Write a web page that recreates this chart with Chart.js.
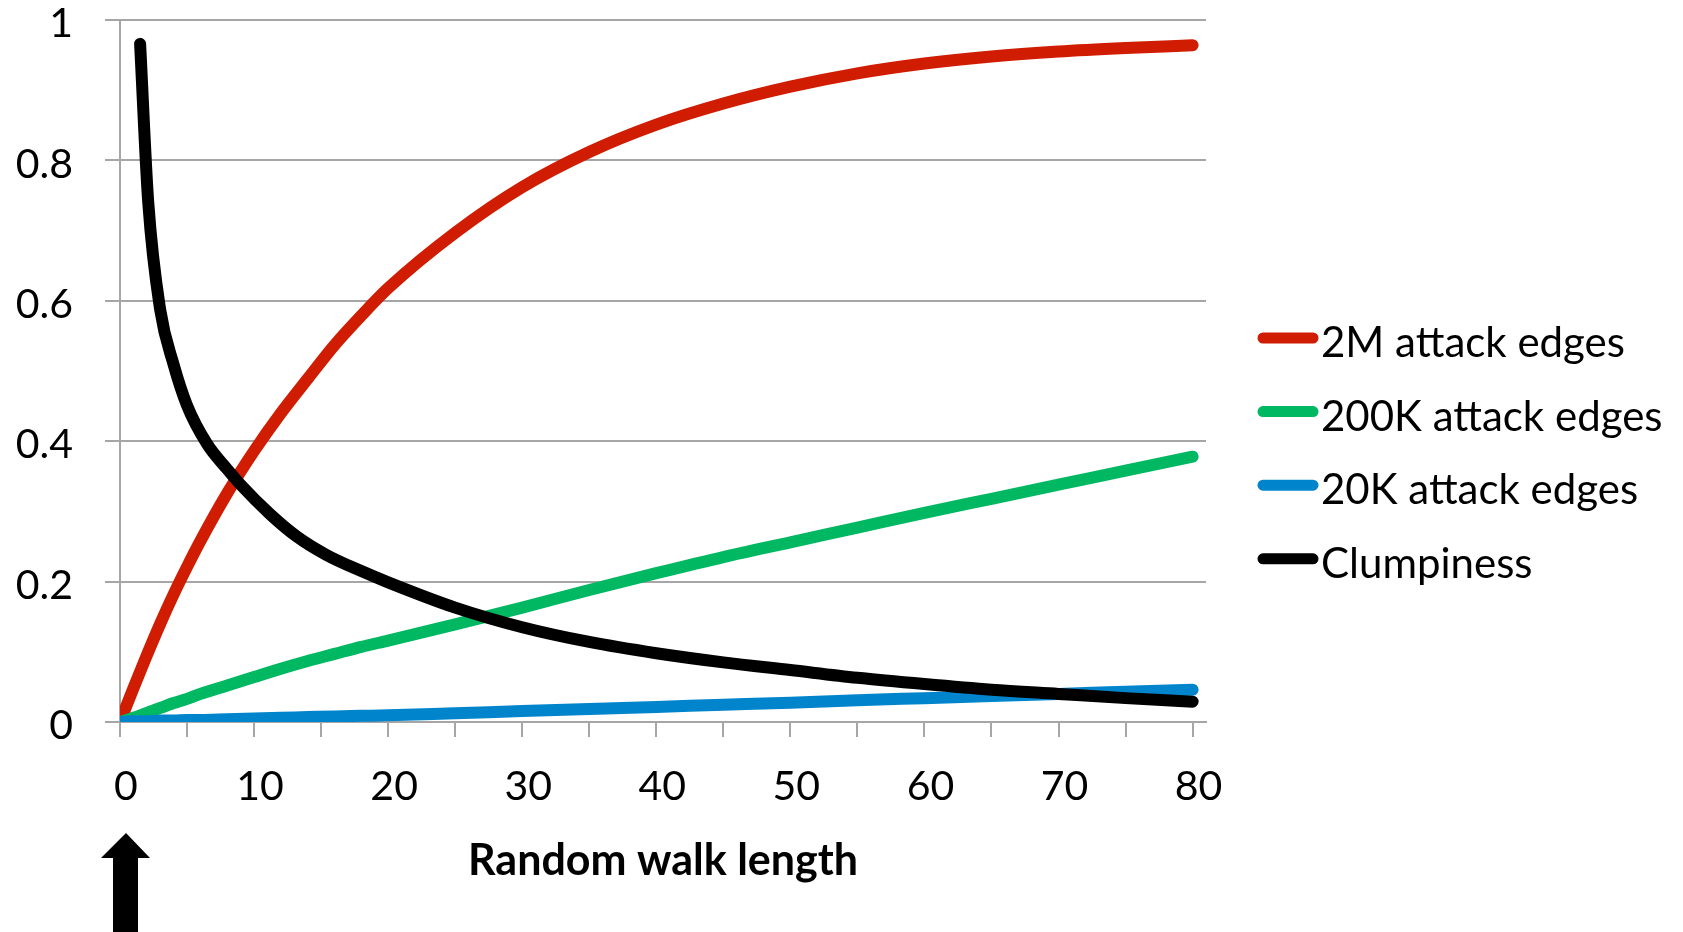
<!DOCTYPE html>
<html>
<head>
<meta charset="utf-8">
<title>Random walk length</title>
<script src="https://cdn.jsdelivr.net/npm/chart.js@4/dist/chart.umd.min.js"></script>
<style>
  body { margin: 0; background: #fff; }
  canvas { display: block; }
</style>
</head>
<body>
<canvas id="walkChart" width="1683" height="932"></canvas>
<script>
// values
const walkLength = [0, 1, 2, 3, 4, 5, 6, 8, 10, 12, 14, 16, 18, 20, 25, 30, 35, 40, 45, 50, 55, 60, 65, 70, 75, 80];
const edges2M = [0, 0.048, 0.095, 0.14, 0.182, 0.221, 0.258, 0.326, 0.386, 0.44, 0.489, 0.537, 0.579, 0.618, 0.697, 0.762, 0.812, 0.851, 0.881, 0.905, 0.924, 0.938, 0.948, 0.955, 0.96, 0.964];
const edges200K = [0, 0.006, 0.013, 0.02, 0.027, 0.033, 0.04, 0.052, 0.064, 0.076, 0.087, 0.097, 0.107, 0.116, 0.139, 0.163, 0.188, 0.212, 0.235, 0.256, 0.277, 0.298, 0.318, 0.338, 0.358, 0.378];
const edges20K = [0, 0.001, 0.001, 0.002, 0.002, 0.003, 0.003, 0.004, 0.005, 0.006, 0.007, 0.008, 0.0088, 0.0095, 0.0125, 0.0155, 0.0185, 0.0215, 0.0245, 0.0275, 0.031, 0.034, 0.037, 0.04, 0.043, 0.046];

const clumpLength = [1.5, 2.1, 3, 4, 5, 6.5, 8, 9, 11.2, 13.2, 15.4, 18, 20, 25, 30, 35, 40, 45, 50, 55, 60, 65, 70, 75, 80];
const clumpiness = [0.966, 0.742, 0.587, 0.509, 0.451, 0.396, 0.36, 0.338, 0.296, 0.264, 0.238, 0.215, 0.199, 0.163, 0.135, 0.114, 0.098, 0.085, 0.074, 0.063, 0.054, 0.046, 0.04, 0.034, 0.029];

const seriesNames = ['2M attack edges', '200K attack edges', '20K attack edges', 'Clumpiness'];
const seriesColors = ['#d01c00', '#00b862', '#0084cc', '#000000'];
const xTicks = [0, 5, 10, 15, 20, 25, 30, 35, 40, 45, 50, 55, 60, 65, 70, 75, 80];
const yTicks = [0, 0.2, 0.4, 0.6, 0.8, 1];

const FONT = 'Lato, "Open Sans", sans-serif';
const GRID = '#a6a6a6';

function toPoints(xs, ys) {
  return xs.map((x, i) => ({ x: x, y: ys[i] }));
}

const seriesData = [
  toPoints(walkLength, edges2M),
  toPoints(walkLength, edges200K),
  toPoints(walkLength, edges20K),
  toPoints(clumpLength, clumpiness)
];
// black drawn last so it sits on top
const drawOrder = [3, 2, 1, 0];

// legend at the right and the arrow under the x axis
const extrasPlugin = {
  id: 'extras',
  afterDraw(chart) {
    const ctx = chart.ctx;
    const area = chart.chartArea;
    ctx.save();

    const lx = area.right + 57;
    const ly = 338;
    ctx.lineCap = 'round';
    ctx.lineWidth = 11;
    ctx.font = '42px ' + FONT;
    ctx.textBaseline = 'alphabetic';
    ctx.fillStyle = '#000';
    chart.data.datasets.forEach((ds, i) => {
      const y = ly + i * 73.6;
      ctx.strokeStyle = ds.borderColor;
      ctx.beginPath();
      ctx.moveTo(lx, y);
      ctx.lineTo(lx + 50, y);
      ctx.stroke();
      ctx.fillText(ds.label, lx + 58, y + 19);
    });

    const ax = chart.scales.x.getPixelForValue(0) + 6;
    ctx.fillStyle = '#000';
    ctx.beginPath();
    ctx.moveTo(ax, 833);
    ctx.lineTo(ax + 24, 858);
    ctx.lineTo(ax + 12, 858);
    ctx.lineTo(ax + 12, chart.height);
    ctx.lineTo(ax - 13, chart.height);
    ctx.lineTo(ax - 13, 858);
    ctx.lineTo(ax - 25, 858);
    ctx.closePath();
    ctx.fill();
    ctx.restore();
  }
};

const ctx = document.getElementById('walkChart').getContext('2d');
new Chart(ctx, {
  type: 'line',
  data: {
    datasets: seriesNames.map((name, i) => ({
      label: name,
      data: seriesData[i],
      borderColor: seriesColors[i],
      backgroundColor: seriesColors[i],
      borderWidth: 12,
      borderCapStyle: 'round',
      borderJoinStyle: 'round',
      pointRadius: 0,
      cubicInterpolationMode: 'monotone',
      fill: false,
      order: drawOrder[i]
    }))
  },
  options: {
    responsive: false,
    animation: false,
    layout: { padding: { top: 20, right: 477, bottom: 0, left: 0 } },
    plugins: {
      legend: { display: false },
      tooltip: { enabled: false }
    },
    scales: {
      x: {
        type: 'linear',
        min: 0,
        max: 81,
        afterBuildTicks(scale) {
          scale.ticks = xTicks.map(v => ({ value: v }));
        },
        afterFit(scale) {
          scale.height = 210;
          scale.paddingLeft = 0;
          scale.paddingRight = 0;
        },
        grid: {
          drawOnChartArea: false,
          drawTicks: true,
          tickLength: 15,
          color: GRID,
          lineWidth: 2
        },
        border: { color: GRID, width: 2 },
        ticks: {
          autoSkip: false,
          maxRotation: 0,
          padding: 25,
          labelOffset: 6,
          color: '#000',
          font: { family: FONT, size: 41 },
          callback: v => (v % 10 === 0 ? String(v) : '')
        },
        title: {
          display: true,
          text: 'Random walk length',
          color: '#000',
          font: { family: FONT, size: 43, weight: 'bold' },
          padding: { top: 0, bottom: 45 }
        }
      },
      y: {
        min: 0,
        max: 1,
        afterBuildTicks(scale) {
          scale.ticks = yTicks.map(v => ({ value: v }));
        },
        afterFit(scale) {
          scale.width = 120;
          scale.paddingTop = 0;
          scale.paddingBottom = 0;
        },
        grid: {
          color: GRID,
          lineWidth: 2,
          tickLength: 15
        },
        border: { color: GRID, width: 2 },
        ticks: {
          padding: 32,
          labelOffset: 4,
          color: '#000',
          font: { family: FONT, size: 41 },
          callback: v => String(Number(v.toFixed(1)))
        }
      }
    }
  },
  plugins: [extrasPlugin]
});
</script>
</body>
</html>
